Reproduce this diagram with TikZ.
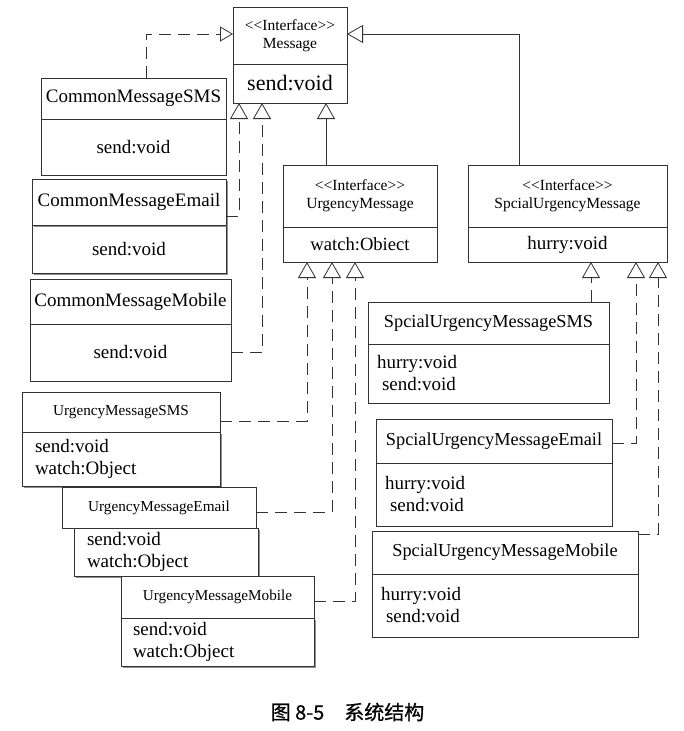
\documentclass[tikz,border=0pt]{standalone}
\usepackage{fontspec}
\setmainfont{Liberation Serif}
\newfontfamily\cjk[FakeBold=0.7]{Noto Sans CJK SC}
\usetikzlibrary{arrows.meta,shadows}
\tikzset{
  box/.style={draw=black!80, line width=0.8pt, fill=white, inner sep=0pt, outer sep=0pt, anchor=north west, align=center},
  shad/.style={drop shadow={shadow xshift=1.6pt, shadow yshift=-1.6pt, fill=black!55, opacity=0.8}},
  stereo/.style={font=\fontsize{15.5}{18}\selectfont},
  ttl/.style={font=\fontsize{19}{22}\selectfont},
  smallttl/.style={font=\fontsize{15.2}{18}\selectfont},
  lbody/.style={font=\fontsize{19}{22}\selectfont, align=left},
  realize/.style={draw=black!80, line width=0.8pt, dash pattern=on 12pt off 7pt,
    -{Triangle[open, length=16pt, width=18pt, line width=0.8pt]}},
  smallrealize/.style={draw=black!80, line width=0.8pt, dash pattern=on 12pt off 7pt,
    -{Triangle[open, length=13pt, width=15pt, line width=0.8pt]}},
  inherit/.style={draw=black!80, line width=0.8pt,
    -{Triangle[open, length=16pt, width=18pt, line width=0.8pt]}},
}
\begin{document}
\begin{tikzpicture}[x=1pt,y=-1pt]
\useasboundingbox (0,0) rectangle (683,731);

% Message interface
\node[box, stereo, minimum width=114pt, minimum height=57pt] (MsgH) at (233,7) {<{}<Interface>{}>\\Message};
\node[box, font=\fontsize{22}{24}\selectfont, minimum width=114pt, minimum height=39pt] (MsgB) at (233,64) {send:void};

% Common messages
\node[box, ttl, minimum width=185pt, minimum height=41pt] (CMSH) at (41,78) {CommonMessageSMS};
\node[box, ttl, minimum width=185pt, minimum height=56pt] (CMSB) at (41,119) {send:void};

\node[box, shad, ttl, minimum width=194pt, minimum height=48pt] (CMEB) at (32,225) {send:void};
\node[box, shad, ttl, minimum width=194pt, minimum height=46pt] (CMEH) at (32,179) {CommonMessageEmail};

\node[box, ttl, minimum width=201pt, minimum height=57pt] (CMMB) at (30,324) {send:void};
\node[box, ttl, minimum width=201pt, minimum height=45pt] (CMMH) at (30,279) {CommonMessageMobile};

% UrgencyMessage interface
\node[box, stereo, minimum width=154pt, minimum height=62pt] (UMH) at (283,165) {<{}<Interface>{}>\\UrgencyMessage};
\node[box, font=\fontsize{18.6}{22}\selectfont, minimum width=154pt, minimum height=35pt] (UMB) at (283,227) {watch:Obiect};

% SpcialUrgencyMessage interface
\node[box, stereo, minimum width=199pt, minimum height=62pt] (SUMH) at (468,165) {<{}<Interface>{}>\\SpcialUrgencyMessage};
\node[box, ttl, minimum width=199pt, minimum height=35pt] (SUMB) at (468,227) {hurry:void};

% Urgency messages
\node[box, shad, lbody, text width=172pt, inner xsep=13pt, minimum height=54pt] (UMSB) at (22,432) {send:void\\watch:Object};
\node[box, smallttl, minimum width=198pt, minimum height=40pt] (UMSH) at (22,392) {UrgencyMessageSMS};

\node[box, shad, lbody, text width=158pt, inner xsep=13pt, minimum height=48pt] (UMEB) at (74,528) {send:void\\watch:Object};
\node[box, smallttl, minimum width=194pt, minimum height=41pt] (UMEH) at (62,487) {UrgencyMessageEmail};

\node[box, shad, lbody, text width=169pt, inner xsep=12pt, minimum height=48pt] (UMMB) at (121,618) {send:void\\watch:Object};
\node[box, smallttl, minimum width=193pt, minimum height=42pt] (UMMH) at (121,576) {UrgencyMessageMobile};

% Special urgency messages
\node[box, font=\fontsize{18.3}{22}\selectfont, minimum width=241pt, minimum height=42pt] (SUMSH) at (368,302) {SpcialUrgencyMessageSMS};
\node[box, lbody, text width=223pt, inner xsep=9pt, minimum height=59pt] (SUMSB) at (368,344) {hurry:void\\\hspace*{5pt}send:void};

\node[box, font=\fontsize{18.3}{22}\selectfont, minimum width=236pt, minimum height=44pt] (SUMEH) at (376,419) {SpcialUrgencyMessageEmail};
\node[box, lbody, text width=218pt, inner xsep=9pt, minimum height=63pt] (SUMEB) at (376,463) {hurry:void\\\hspace*{5pt}send:void};

\node[box, font=\fontsize{18.3}{22}\selectfont, minimum width=266pt, minimum height=43pt] (SUMMH) at (372,531) {SpcialUrgencyMessageMobile};
\node[box, lbody, text width=248pt, inner xsep=9pt, minimum height=63pt] (SUMMB) at (372,574) {hurry:void\\\hspace*{5pt}send:void};

% Connectors to Message
\draw[smallrealize] ([xshift=12.5pt]CMSH.north) |- ([yshift=1.5pt]MsgH.west);
\draw[inherit] ([xshift=-48.5pt]SUMH.north) |- ([yshift=1.5pt]MsgH.east);
\draw[inherit] ([xshift=-34pt]UMH.north) -- ([xshift=36pt]MsgB.south);
\draw[realize] ([yshift=-14pt]CMEH.east) -| ([xshift=-51pt]MsgB.south);
\draw[realize] (CMMB.east) -| ([xshift=-28pt]MsgB.south);

% Connectors to UrgencyMessage
\draw[realize] ([yshift=-9pt]UMSH.east) -| ([xshift=-53pt]UMB.south);
\draw[realize] ([yshift=-4.5pt]UMEH.east) -| ([xshift=-28pt]UMB.south);
\draw[realize] ([yshift=-4pt]UMMH.east) -| ([xshift=-5pt]UMB.south);

% Connectors to SpcialUrgencyMessage
\draw[realize] ([xshift=102.5pt]SUMSH.north) -- ([xshift=23.5pt]SUMB.south);
\draw[realize] ([yshift=-2pt]SUMEH.east) -| ([xshift=68.5pt]SUMB.south);
\draw[realize] ([yshift=18.5pt]SUMMH.east) -| ([xshift=90.5pt]SUMB.south);

% Caption
\node[font=\cjk\fontsize{20}{24}\selectfont, inner sep=0pt] (cap) at (347.5,712) {图 8-5\hspace{20pt}系统结构};
\end{tikzpicture}
\end{document}
